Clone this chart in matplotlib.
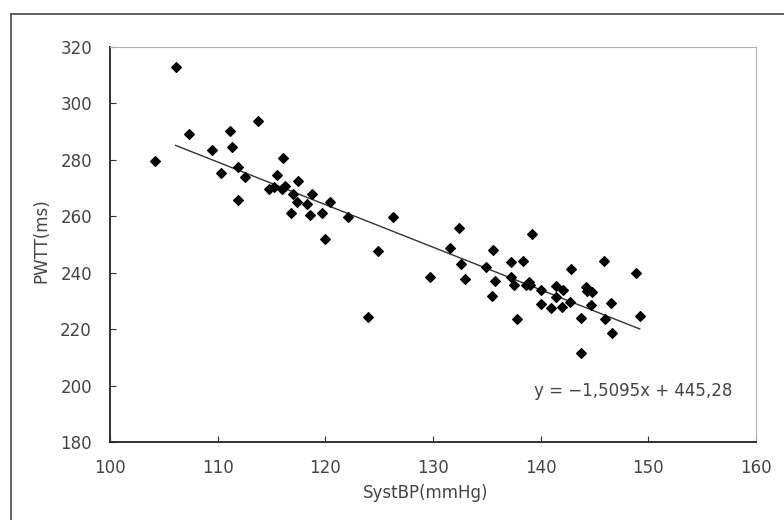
import matplotlib
matplotlib.use("Agg")
import matplotlib.pyplot as plt
from matplotlib.lines import Line2D
import numpy as np

plt.rcParams['font.family'] = ['DejaVu Sans']

syst_bp = [104.2, 106.1, 107.3, 111.1, 113.7, 109.5, 111.3, 110.3, 111.9, 112.5,
           111.9, 116.1, 115.5, 114.8, 115.2, 116.0, 116.3, 117.5, 117.0, 117.4,
           116.8, 118.3, 118.8, 118.6, 119.7, 120.4, 120.0, 122.1, 124.9, 126.3,
           124.0, 129.7, 132.4, 131.6, 132.6, 133.0, 135.6, 134.9, 135.8, 135.5,
           137.2, 138.4, 137.2, 137.5, 138.6, 137.8, 139.2, 138.9, 139.0, 140.0,
           140.0, 141.0, 141.4, 141.4, 142.1, 142.0, 142.7, 142.8, 143.7, 143.7,
           144.2, 144.3, 144.8, 144.7, 145.9, 146.0, 146.5, 146.6, 148.9, 149.2]
pwtt = [279.6, 313.0, 289.3, 290.2, 293.8, 283.4, 284.4, 275.2, 277.5, 273.8,
        265.7, 280.6, 274.5, 269.5, 270.4, 269.5, 270.7, 272.4, 268.0, 264.9,
        261.1, 264.2, 268.0, 260.3, 261.3, 265.0, 251.8, 259.7, 247.6, 259.6,
        224.2, 238.5, 255.7, 248.7, 243.1, 237.8, 248.1, 242.2, 237.2, 231.8,
        243.8, 244.2, 238.4, 235.5, 235.5, 223.7, 253.7, 236.6, 235.7, 233.9,
        228.8, 227.5, 235.2, 231.3, 233.9, 227.7, 229.5, 241.4, 224.0, 211.4,
        234.8, 233.6, 233.0, 228.4, 244.0, 223.6, 229.4, 218.6, 239.8, 224.5]
slope = -1.5095
intercept = 445.28
x_ticks = [100, 110, 120, 130, 140, 150, 160]
y_ticks = [180, 200, 220, 240, 260, 280, 300, 320]

fig = plt.figure(figsize=(7.84, 5.2), dpi=100)
fig.patch.set_facecolor("white")
# outer frame (top and left edges visible)
fig.lines.append(Line2D([11/784, 1.0], [1 - 14/520, 1 - 14/520], transform=fig.transFigure,
                        color="#555555", lw=1.3))
fig.lines.append(Line2D([11/784, 11/784], [0.0, 1 - 14/520], transform=fig.transFigure,
                        color="#555555", lw=1.3))

ax = fig.add_axes([110/784, 1 - 442/520, (756 - 110)/784, (442 - 47)/520])
ax.scatter(syst_bp, pwtt, marker="D", s=24, color="black", zorder=3)
xs = np.array([min(syst_bp[1:]), max(syst_bp)])
ax.plot(xs, slope * xs + intercept, color="#333333", lw=1.0, zorder=2)

ax.set_xlim(100, 160)
ax.set_ylim(180, 320)
ax.set_xticks(x_ticks)
ax.set_yticks(y_ticks)
ax.tick_params(axis="x", direction="in", length=4, colors="#333333", labelsize=12, pad=12)
ax.tick_params(axis="y", direction="in", length=4, colors="#333333", labelsize=12, pad=13)
for lab in ax.get_xticklabels() + ax.get_yticklabels():
    lab.set_color("#444444")
ax.spines["left"].set_color("#222222")
ax.spines["bottom"].set_color("#222222")
ax.spines["left"].set_linewidth(1.3)
ax.spines["bottom"].set_linewidth(1.3)
ax.spines["top"].set_color("#b0b0b0")
ax.spines["right"].set_color("#b0b0b0")
ax.spines["top"].set_linewidth(0.8)
ax.spines["right"].set_linewidth(0.8)

ax.set_xlabel("SystBP(mmHg)", fontsize=12, color="#444444")
ax.set_ylabel("PWTT(ms)", fontsize=12, color="#444444")
ax.xaxis.set_label_coords(0.488, -0.107)
ax.yaxis.set_label_coords(-0.093, 0.511)
ax.text(157.85, 198.1, "y = \u22121,5095x + 445,28", fontsize=12, color="#444444",
        ha="right", va="center")

fig.savefig("out.png", dpi=100)
